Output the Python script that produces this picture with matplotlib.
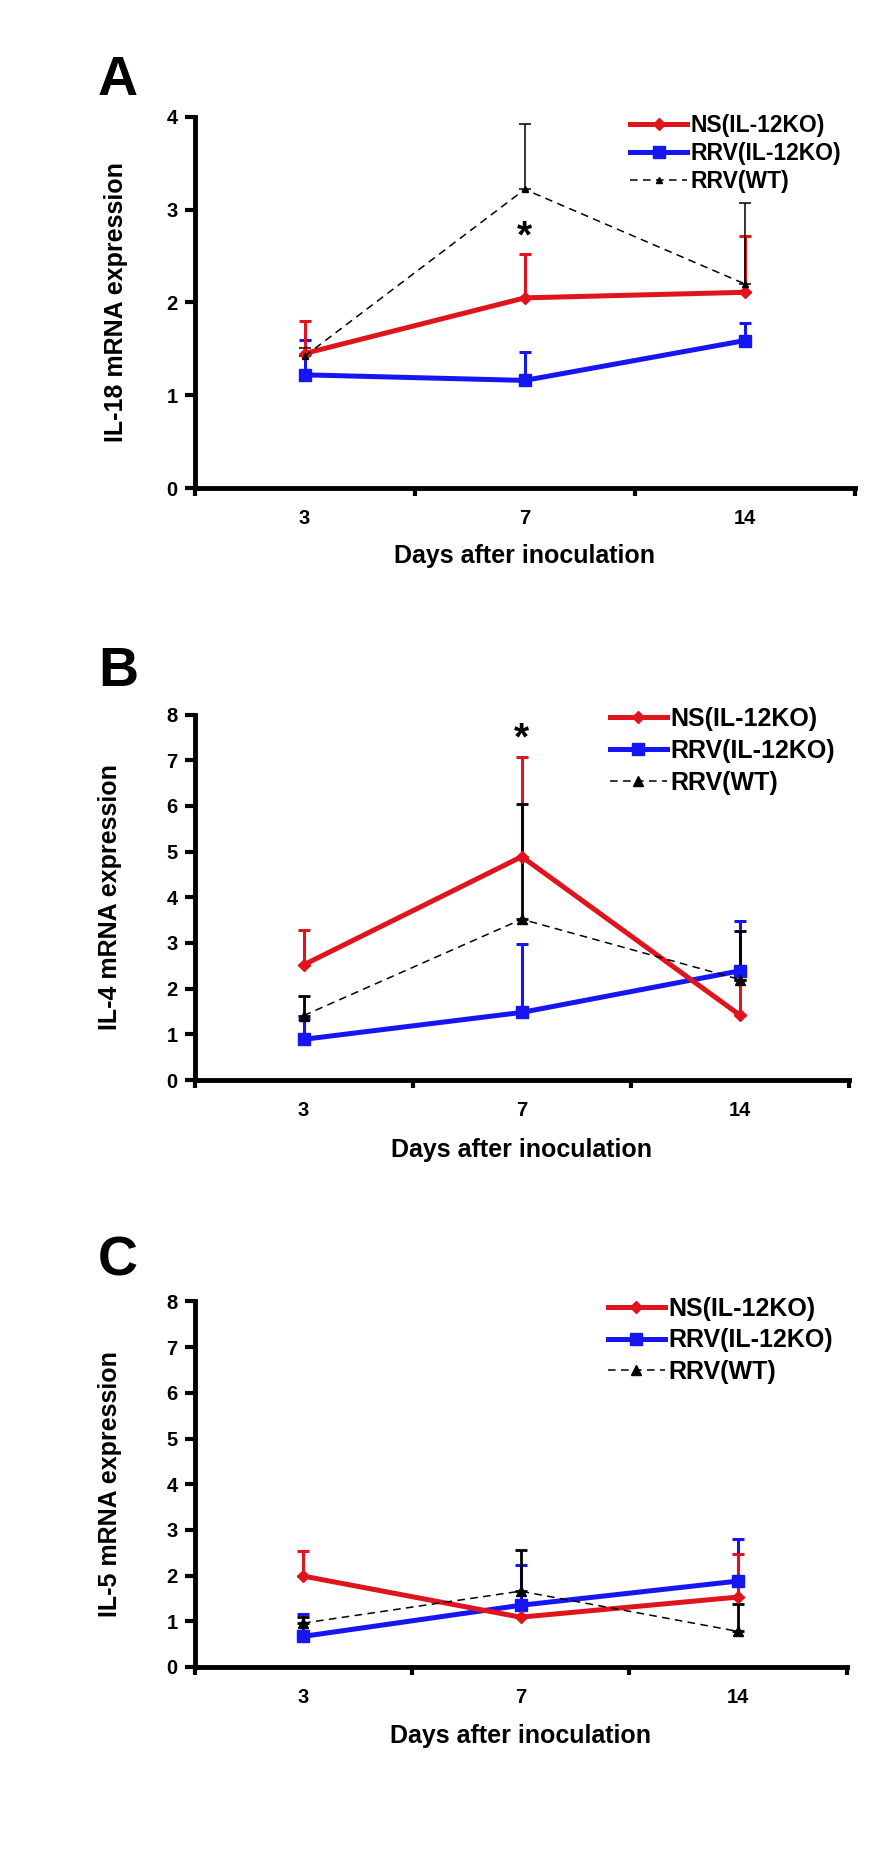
import matplotlib
matplotlib.use("Agg")
import matplotlib.pyplot as plt
import numpy as np

# ---------------- data ----------------
days = ['3', '7', '14']
series_names = ['NS(IL-12KO)', 'RRV(IL-12KO)', 'RRV(WT)']

A_ns = [1.45, 2.05, 2.11]
A_ns_err = [0.35, 0.47, 0.61]
A_rrv = [1.22, 1.16, 1.59]
A_rrv_err = [0.38, 0.31, 0.19]
A_wt = [1.42, 3.22, 2.20]
A_wt_err = [0.09, 0.70, 0.87]

B_ns = [2.52, 4.89, 1.42]
B_ns_err = [0.76, 2.19, 0.78]
B_rrv = [0.89, 1.48, 2.39]
B_rrv_err = [0.45, 1.49, 1.10]
B_wt = [1.41, 3.52, 2.20]
B_wt_err = [0.44, 2.52, 1.06]

C_ns = [1.99, 1.09, 1.53]
C_ns_err = [0.54, 0.0, 0.95]
C_rrv = [0.67, 1.35, 1.88]
C_rrv_err = [0.48, 0.89, 0.93]
C_wt = [0.96, 1.66, 0.78]
C_wt_err = [0.14, 0.90, 0.59]

ylabels = ['IL-18 mRNA expression', 'IL-4 mRNA expression', 'IL-5 mRNA expression']
panel_letters = ['A', 'B', 'C']
ymaxes = [4, 8, 8]
star_pos = [(2, 2.70), (2, 7.45), None]
xlabel = 'Days after inoculation'

# ---------------- style ----------------
RED = '#e0141c'
BLUE = '#1616f2'
FONT = ['Liberation Sans', 'DejaVu Sans']

W, H = 885, 1868
fig = plt.figure(figsize=(W / 100, H / 100), dpi=100)

# axes rectangles in pixels: (left, top, right, bottom)
rects = [(194.5, 117, 855, 488), (194.5, 714.6, 849, 1080), (194.5, 1301.4, 846.5, 1667)]
letter_base = [95, 686, 1275]
legend_anchor = [(630, 114), (610, 707), (608, 1297)]
legend_size = [16.5, 18, 18]
legend_hlen = [2.49, 2.27, 2.27]
legend_spacing = [0.22, 0.32, 0.3]
xlabel_top = [543.6, 1138, 1723.6]
ylabel_right = [128, 122, 122]
wt_ms = [5, 7.5, 7.5]
wt_elw = [1.1, 2.0, 2.0]

data = [
    (A_ns, A_ns_err, A_rrv, A_rrv_err, A_wt, A_wt_err),
    (B_ns, B_ns_err, B_rrv, B_rrv_err, B_wt, B_wt_err),
    (C_ns, C_ns_err, C_rrv, C_rrv_err, C_wt, C_wt_err),
]

x = np.arange(1, len(days) + 1)

for i in range(3):
    l, t, r, b = rects[i]
    ax = fig.add_axes([l / W, (H - b) / H, (r - l) / W, (b - t) / H])
    ns, ns_e, rrv, rrv_e, wt, wt_e = data[i]
    z = np.zeros(len(days))

    # error bars (upper only)
    ax.errorbar(x, rrv, yerr=[z, rrv_e], fmt='none', ecolor=BLUE, elinewidth=2.2,
                capsize=4, capthick=2.2, zorder=2, clip_on=False)
    ax.errorbar(x, ns, yerr=[z, ns_e], fmt='none', ecolor=RED, elinewidth=2.2,
                capsize=4, capthick=2.2, zorder=2, clip_on=False)
    ax.errorbar(x, wt, yerr=[z, wt_e], fmt='none', ecolor='black', elinewidth=wt_elw[i],
                capsize=4, capthick=wt_elw[i], zorder=2, clip_on=False)

    h_rrv, = ax.plot(x, rrv, color=BLUE, lw=3.6, marker='s', ms=8, mec=BLUE, mfc=BLUE,
                     zorder=3, clip_on=False, label=series_names[1])
    h_ns, = ax.plot(x, ns, color=RED, lw=3.6, marker='D', ms=6.5, mec=RED, mfc=RED,
                    zorder=4, clip_on=False, label=series_names[0])
    h_wt, = ax.plot(x, wt, color='black', lw=1.1, ls=(0, (5, 3.5)), marker='^', ms=wt_ms[i],
                    mec='black', mfc='black', zorder=5, clip_on=False, label=series_names[2])

    ax.set_xlim(0.5, len(days) + 0.5)
    ax.set_ylim(0, ymaxes[i])
    ax.set_yticks(np.arange(0, ymaxes[i] + 1, 1))
    ax.set_xticks(np.arange(0.5, len(days) + 1, 1))
    ax.set_xticklabels([])
    ax.set_xticks(x, minor=True)
    ax.set_xticklabels(days, minor=True)
    ax.tick_params(axis='x', which='major', length=6, width=3, direction='out')
    ax.tick_params(axis='x', which='minor', length=0, pad=15)
    ax.tick_params(axis='y', which='major', length=7, width=3, direction='out', pad=5)
    for lab in ax.get_yticklabels() + ax.get_xticklabels(minor=True):
        lab.set_fontfamily(FONT)
        lab.set_fontweight('bold')
        lab.set_fontsize(14.5)

    for s in ['top', 'right']:
        ax.spines[s].set_visible(False)
    for s in ['left', 'bottom']:
        ax.spines[s].set_linewidth(3.5)

    ax.set_xlabel(xlabel, fontfamily=FONT, fontweight='bold', fontsize=18)
    ax.xaxis.set_label_coords(0.5, -(xlabel_top[i] - b) / (b - t))
    ax.set_ylabel(ylabels[i], fontfamily=FONT, fontweight='bold', fontsize=18)
    ax.yaxis.set_label_coords(-(l - ylabel_right[i]) / (r - l), 0.5)

    if star_pos[i] is not None:
        ax.text(star_pos[i][0], star_pos[i][1], '*', ha='center', va='center',
                fontsize=28, fontweight='bold', fontfamily=FONT)

    fig.text(98 / W, (H - letter_base[i]) / H, panel_letters[i], fontsize=40,
             fontweight='bold', fontfamily=FONT, ha='left', va='baseline')

    lx, ly = legend_anchor[i]
    ax.legend(handles=[h_ns, h_rrv, h_wt], loc='upper left',
              bbox_to_anchor=(lx / W, (H - ly) / H), bbox_transform=fig.transFigure,
              frameon=False, borderpad=0, borderaxespad=0, handlelength=legend_hlen[i],
              handletextpad=0.13, labelspacing=legend_spacing[i],
              prop={'family': FONT, 'weight': 'bold', 'size': legend_size[i]})

fig.savefig('out.png', dpi=100)
